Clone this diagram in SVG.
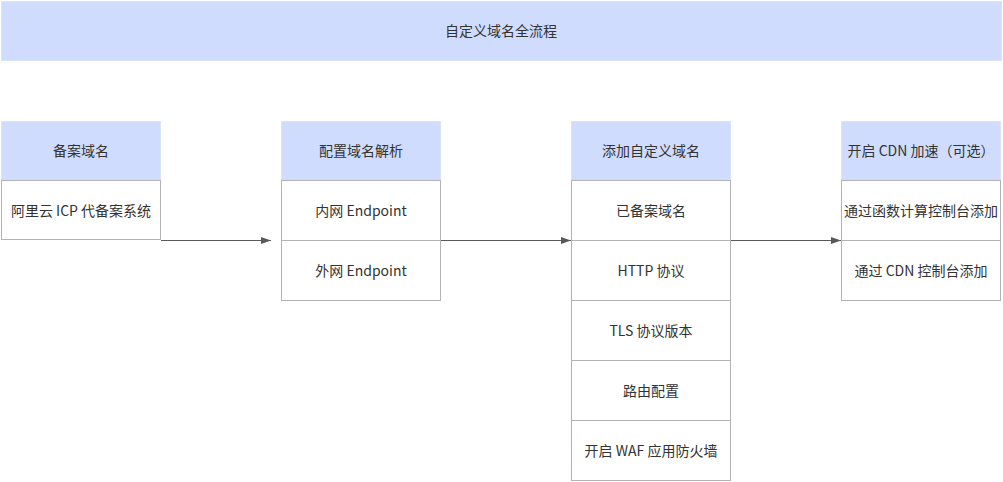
<svg xmlns="http://www.w3.org/2000/svg" width="1003" height="482" viewBox="0 0 1003 482">
<defs>
<style>
.hd{fill:#d0dcfd;stroke:#dae3fd;stroke-width:1}
.cell{fill:#ffffff;stroke:#b3b3b3;stroke-width:1}
text{font-family:"Noto Sans CJK SC","Liberation Sans",sans-serif;font-size:14px;fill:#333333;text-anchor:middle;dominant-baseline:central}
.conn{stroke:#595959;stroke-width:1;fill:none;marker-end:url(#arr)}
</style>
<marker id="arr" viewBox="0 0 10 10" refX="10" refY="5" markerWidth="10" markerHeight="10" markerUnits="userSpaceOnUse" orient="auto">
<path d="M0,1.5 L10,5 L0,8.5 Z" fill="#595959"/>
</marker>
</defs>
<rect width="1003" height="482" fill="#ffffff"/>
<g id="title">
<rect class="hd" x="1.5" y="1.5" width="1000" height="59"/>
<text x="501" y="30">自定义域名全流程</text>
</g>
<g id="col1">
<rect class="hd" x="1.5" y="121.5" width="159" height="59"/>
<text x="81" y="150">备案域名</text>
<rect class="cell" x="1.5" y="180.5" width="159" height="59"/>
<text x="81" y="210">阿里云 ICP 代备案系统</text>
</g>
<g id="col2">
<rect class="hd" x="281.5" y="121.5" width="159" height="59"/>
<text x="361" y="150">配置域名解析</text>
<rect class="cell" x="281.5" y="180.5" width="159" height="60"/>
<text x="361" y="210">内网 Endpoint</text>
<rect class="cell" x="281.5" y="240.5" width="159" height="60"/>
<text x="361" y="270">外网 Endpoint</text>
</g>
<g id="col3">
<rect class="hd" x="571.5" y="121.5" width="159" height="59"/>
<text x="651" y="150">添加自定义域名</text>
<rect class="cell" x="571.5" y="180.5" width="159" height="60"/>
<text x="651" y="210">已备案域名</text>
<rect class="cell" x="571.5" y="240.5" width="159" height="60"/>
<text x="651" y="270">HTTP 协议</text>
<rect class="cell" x="571.5" y="300.5" width="159" height="60"/>
<text x="651" y="330">TLS 协议版本</text>
<rect class="cell" x="571.5" y="360.5" width="159" height="60"/>
<text x="651" y="390">路由配置</text>
<rect class="cell" x="571.5" y="420.5" width="159" height="60"/>
<text x="651" y="450">开启 WAF 应用防火墙</text>
</g>
<g id="col4">
<rect class="hd" x="841.5" y="121.5" width="159" height="59"/>
<text x="921" y="150">开启 CDN 加速（可选）</text>
<rect class="cell" x="841.5" y="180.5" width="159" height="60"/>
<text x="921" y="210">通过函数计算控制台添加</text>
<rect class="cell" x="841.5" y="240.5" width="159" height="60"/>
<text x="921" y="270">通过 CDN 控制台添加</text>
</g>
<g id="connectors">
<line class="conn" x1="161" y1="240.5" x2="271" y2="240.5"/>
<line class="conn" x1="441" y1="240.5" x2="571" y2="240.5"/>
<line class="conn" x1="731" y1="240.5" x2="841" y2="240.5"/>
</g>
</svg>
